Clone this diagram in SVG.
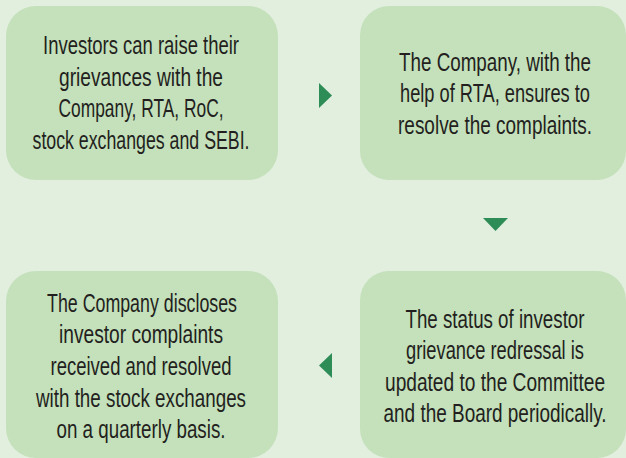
<svg xmlns="http://www.w3.org/2000/svg" width="626" height="458" viewBox="0 0 626 458">
<style>
.bg{fill:#e2efdf}
.box{fill:#c4e1bb}
.t{font-family:"Liberation Sans",Arial,sans-serif;font-size:25px;fill:#231f20;text-anchor:middle}
.arr{fill:#2e8c57}
</style>
<rect class="bg" x="0" y="0" width="626" height="458"/>
<g id="node1">
<rect class="box" x="6" y="6" width="272" height="174" rx="30" ry="30"/>
<g transform="translate(141,0) scale(0.72,1)">
<text class="t" x="0" y="54" textLength="272.2" lengthAdjust="spacingAndGlyphs">Investors can raise their</text>
<text class="t" x="0" y="86" textLength="227.8" lengthAdjust="spacingAndGlyphs">grievances with the</text>
<text class="t" x="0" y="117" textLength="229.2" lengthAdjust="spacingAndGlyphs">Company, RTA, RoC,</text>
<text class="t" x="0" y="149" textLength="301.4" lengthAdjust="spacingAndGlyphs">stock exchanges and SEBI.</text>
</g>
</g>
<g id="node2">
<rect class="box" x="360" y="6" width="266" height="174" rx="29" ry="29"/>
<g transform="translate(495,0) scale(0.72,1)">
<text class="t" x="0" y="71" textLength="266.7" lengthAdjust="spacingAndGlyphs">The Company, with the</text>
<text class="t" x="0" y="102" textLength="263.9" lengthAdjust="spacingAndGlyphs">help of RTA, ensures to</text>
<text class="t" x="0" y="134" textLength="269.4" lengthAdjust="spacingAndGlyphs">resolve the complaints.</text>
</g>
</g>
<g id="node3">
<rect class="box" x="360" y="271" width="266" height="187" rx="29" ry="29"/>
<g transform="translate(495,0) scale(0.72,1)">
<text class="t" x="0" y="328" textLength="248.6" lengthAdjust="spacingAndGlyphs">The status of investor</text>
<text class="t" x="0" y="359" textLength="247.2" lengthAdjust="spacingAndGlyphs">grievance redressal is</text>
<text class="t" x="0" y="391" textLength="305.6" lengthAdjust="spacingAndGlyphs">updated to the Committee</text>
<text class="t" x="0" y="422" textLength="309.7" lengthAdjust="spacingAndGlyphs">and the Board periodically.</text>
</g>
</g>
<g id="node4">
<rect class="box" x="6" y="271" width="272" height="187" rx="30" ry="30"/>
<g transform="translate(141,0) scale(0.72,1)">
<text class="t" x="1.4" y="312" textLength="263.9" lengthAdjust="spacingAndGlyphs">The Company discloses</text>
<text class="t" x="0" y="343" textLength="227.8" lengthAdjust="spacingAndGlyphs">investor complaints</text>
<text class="t" x="0" y="375" textLength="251.4" lengthAdjust="spacingAndGlyphs">received and resolved</text>
<text class="t" x="0" y="407" textLength="291.7" lengthAdjust="spacingAndGlyphs">with the stock exchanges</text>
<text class="t" x="0" y="438" textLength="234.7" lengthAdjust="spacingAndGlyphs">on a quarterly basis.</text>
</g>
</g>
<g id="connectors">
<polygon class="arr" points="319,83 332,95.5 319,108"/>
<polygon class="arr" points="483,218 508,218 495.5,231"/>
<polygon class="arr" points="332,353 319,365.5 332,378"/>
</g>
</svg>
